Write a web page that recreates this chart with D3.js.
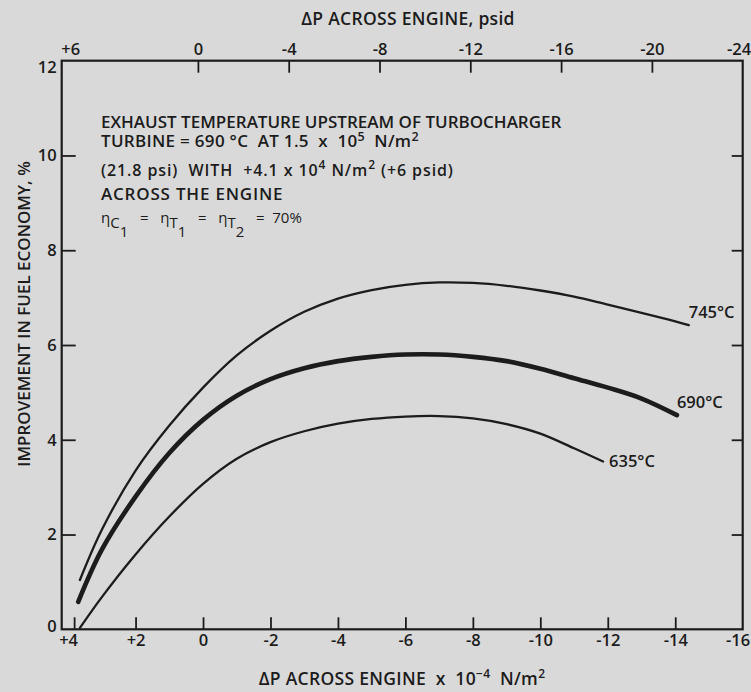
<!DOCTYPE html>
<html><head><meta charset="utf-8">
<script src="https://cdn.jsdelivr.net/npm/d3@7"></script>
<style>
html,body{margin:0;padding:0;background:#d9d9d9;}
svg{display:block;}
text{font-family:"Open Sans",sans-serif;font-weight:600;fill:#1c1c1c;white-space:pre;}
</style></head><body>
<svg id="c" width="751" height="692"></svg>
<script>
// ---- data ----
const bottomTicks = [4, 2, 0, -2, -4, -6, -8, -10, -12, -14, -16];
const bottomTickLabels = ["+4", "+2", "0", "-2", "-4", "-6", "-8", "-10", "-12", "-14", "-16"];
const topTicks = [6, 0, -4, -8, -12, -16, -20, -24];
const topTickLabels = ["+6", "0", "-4", "-8", "-12", "-16", "-20", "-24"];
const yTicks = [0, 2, 4, 6, 8, 10, 12];
const yTickLabels = ["0", "2", "4", "6", "8", "10", "12"];

// x: ΔP across engine ×10^-4 N/m², y: improvement in fuel economy %
const curve745X = [3.65, 3, 2, 1, 0, -1, -2, -3, -4, -5, -6, -7, -8, -9, -10, -11, -12, -13, -14, -14.4];
const curve745Y = [1.04, 2.1, 3.35, 4.3, 5.1, 5.78, 6.3, 6.7, 6.98, 7.16, 7.27, 7.32, 7.31, 7.25, 7.15, 7.02, 6.85, 6.68, 6.5, 6.42];
const curve690X = [3.7, 3, 2, 1, 0, -1, -2, -3, -4, -5, -6, -7, -8, -9, -10, -11, -12, -13, -14.05];
const curve690Y = [0.58, 1.68, 2.8, 3.72, 4.42, 4.93, 5.28, 5.51, 5.66, 5.75, 5.8, 5.8, 5.75, 5.66, 5.5, 5.3, 5.1, 4.87, 4.52];
const curve635X = [3.65, 3, 2, 1, 0, -1, -2, -3, -4, -5, -6, -7, -8, -9, -10, -11, -11.86];
const curve635Y = [0.03, 0.68, 1.58, 2.38, 3.07, 3.6, 3.95, 4.18, 4.34, 4.44, 4.49, 4.5, 4.45, 4.33, 4.13, 3.82, 3.54];
const seriesNames = ["745°C", "690°C", "635°C"];

// ---- layout ----
const svg = d3.select("#c");
const L = 61.7, R = 742.7, T = 60.7, B = 629.3;
const x = d3.scaleLinear().domain([4.19, -16]).range([L, R]);
const xTop = d3.scaleLinear().domain([6, -24]).range([L, R]);
const y = d3.scaleLinear().domain([0, 12]).range([B, T]);
const ink = "#1c1c1c";

svg.append("rect").attr("x", L).attr("y", T).attr("width", R - L).attr("height", B - T)
  .attr("fill", "none").attr("stroke", ink).attr("stroke-width", 2.2);

const bAxis = d3.axisBottom(x).tickValues(bottomTicks).tickSizeInner(-12).tickSizeOuter(0)
  .tickFormat((d, i) => bottomTickLabels[i]).tickPadding(5);
const gB = svg.append("g").attr("transform", `translate(0,${B})`).call(bAxis);
const tAxis = d3.axisTop(xTop).tickValues(topTicks).tickSizeInner(-12).tickSizeOuter(0)
  .tickFormat((d, i) => topTickLabels[i]).tickPadding(6);
const gT = svg.append("g").attr("transform", `translate(0,${T})`).call(tAxis);
const lAxis = d3.axisLeft(y).tickValues(yTicks).tickSizeInner(-14).tickSizeOuter(0)
  .tickFormat((d, i) => yTickLabels[i]).tickPadding(5);
const gL = svg.append("g").attr("transform", `translate(${L},0)`).call(lAxis);
const rAxis = d3.axisRight(y).tickValues(yTicks.filter(v => v > 0 && v < 12)).tickSizeInner(-11).tickSizeOuter(0)
  .tickFormat("");
const gR = svg.append("g").attr("transform", `translate(${R},0)`).call(rAxis);

[gB, gT, gL, gR].forEach(g => {
  g.select(".domain").remove();
  g.selectAll(".tick line").attr("stroke", ink).attr("stroke-width", 1.8);
  g.selectAll(".tick text").attr("fill", ink).attr("font-size", 16.5)
    .style("font-family", '"Open Sans",sans-serif').style("font-weight", 600);
});
gB.selectAll(".tick").filter(d => d === -16).select("line").remove();
gB.selectAll(".tick").filter(d => d === -16).select("text").attr("text-anchor", "end").attr("x", 7);
gT.selectAll(".tick").filter(d => d === 6 || d === -24).select("line").remove();
gT.selectAll(".tick").filter(d => d === 6).select("text").attr("text-anchor", "start").attr("x", -1);
gT.selectAll(".tick").filter(d => d === -24).select("text").attr("text-anchor", "end").attr("x", 8);
gL.selectAll(".tick").filter(d => d === 0 || d === 12).select("line").remove();
gL.selectAll(".tick").filter(d => d === 12).select("text").attr("dy", "0.7em");
gL.selectAll(".tick").filter(d => d === 0).select("text").attr("dy", "0.15em");
gB.selectAll(".tick").filter(d => d === 4).select("line").attr("x1", 6).attr("x2", 6);

// curves
const line = d3.line().x(d => x(d[0])).y(d => y(d[1])).curve(d3.curveCatmullRom.alpha(0.5));
const series = [
  {name: seriesNames[0], pts: d3.zip(curve745X, curve745Y), w: 2.3},
  {name: seriesNames[1], pts: d3.zip(curve690X, curve690Y), w: 4.6},
  {name: seriesNames[2], pts: d3.zip(curve635X, curve635Y), w: 2.3}
];
svg.append("g").selectAll("path").data(series).join("path")
  .attr("d", d => line(d.pts)).attr("fill", "none").attr("stroke", ink)
  .attr("stroke-width", d => d.w).attr("stroke-linecap", "round");

const labelOffsets = [[0, -7], [0, -7], [6, 5]];
svg.append("g").selectAll("text").data(series).join("text")
  .attr("x", (d, i) => x(d.pts[d.pts.length - 1][0]) + labelOffsets[i][0])
  .attr("y", (d, i) => y(d.pts[d.pts.length - 1][1]) + labelOffsets[i][1])
  .attr("font-size", 16.5).text(d => d.name);

// axis titles
svg.append("text").attr("x", 408).attr("y", 25).attr("text-anchor", "middle").attr("font-size", 17.5)
  .attr("letter-spacing", 0.3).text("ΔP ACROSS ENGINE, psid");
const bt = svg.append("text").attr("x", 402).attr("y", 685).attr("text-anchor", "middle").attr("font-size", 17.5)
  .attr("letter-spacing", 0.3);
bt.append("tspan").text("ΔP ACROSS ENGINE  x  10");
bt.append("tspan").attr("dy", -7).attr("font-size", 12).text("−4");
bt.append("tspan").attr("dy", 7).text("  N/m");
bt.append("tspan").attr("dy", -7).attr("font-size", 12).text("2");
svg.append("text").attr("transform", "translate(30,314) rotate(-90)").attr("text-anchor", "middle")
  .attr("font-size", 17).text("IMPROVEMENT IN FUEL ECONOMY, %");

// annotation
const ann = svg.append("g").attr("font-size", 17);
ann.append("text").attr("x", 101).attr("y", 128).text("EXHAUST TEMPERATURE UPSTREAM OF TURBOCHARGER");
const a2 = ann.append("text").attr("x", 101).attr("y", 147).attr("letter-spacing", 0.3);
a2.append("tspan").text("TURBINE = 690 °C  AT 1.5  x  10");
a2.append("tspan").attr("dy", -6).attr("font-size", 12.5).text("5");
a2.append("tspan").attr("dy", 6).text("  N/m");
a2.append("tspan").attr("dy", -6).attr("font-size", 12.5).text("2");
const a3 = ann.append("text").attr("x", 101).attr("y", 176).attr("font-size", 16).attr("letter-spacing", 0.9);
a3.append("tspan").text("(21.8 psi)  WITH  +4.1 x 10");
a3.append("tspan").attr("dy", -7).attr("font-size", 12).text("4");
a3.append("tspan").attr("dy", 7).text(" N/m");
a3.append("tspan").attr("dy", -7).attr("font-size", 12).text("2");
a3.append("tspan").attr("dy", 7).text(" (+6 psid)");
ann.append("text").attr("x", 101).attr("y", 200).attr("letter-spacing", 0.8).text("ACROSS THE ENGINE");
const a5 = ann.append("text").attr("x", 101).attr("y", 223).attr("font-size", 15).style("font-weight", 400);
a5.append("tspan").text("η");
a5.append("tspan").attr("dy", 5).text("C");
a5.append("tspan").attr("dy", 9).text("1");
a5.append("tspan").attr("dy", -14).text("   =   η");
a5.append("tspan").attr("dy", 5).text("T");
a5.append("tspan").attr("dy", 9).text("1");
a5.append("tspan").attr("dy", -14).text("   =   η");
a5.append("tspan").attr("dy", 5).text("T");
a5.append("tspan").attr("dy", 9).text("2");
a5.append("tspan").attr("dy", -14).text("   =  70%");
</script>
</body></html>
